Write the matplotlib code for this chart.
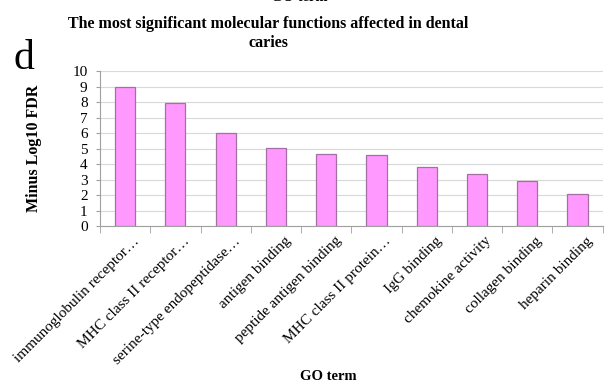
import numpy as np
import matplotlib.pyplot as plt
import matplotlib.transforms as mtransforms

terms = ['immunoglobulin receptor…', 'MHC class II receptor…', 'serine-type endopeptidase…',
         'antigen binding', 'peptide antigen binding', 'MHC class II protein…',
         'IgG binding', 'chemokine activity', 'collagen binding', 'heparin binding']
fdr = [9.0, 7.95, 6.0, 5.05, 4.65, 4.6, 3.8, 3.35, 2.9, 2.05]
yticks = list(range(0, 11))

plt.rcParams['font.family'] = ['Liberation Serif', 'DejaVu Serif']

fig = plt.figure(figsize=(6.1, 3.87), dpi=100)
ax = fig.add_axes([0.164, 0.416, 0.824, 0.4])

x = np.arange(len(terms))
ax.bar(x, fdr, width=0.4, color='#ff99ff', edgecolor='#a46fa4', linewidth=0.9, zorder=3)

ax.set_xlim(-0.5, len(terms) - 0.5)
ax.set_ylim(0, 10)
ax.set_yticks(yticks)
ax.set_yticklabels([str(t) for t in yticks], fontsize=11)
ax.yaxis.grid(True, color='#d9d9d9', linewidth=0.8, zorder=0)
ax.tick_params(axis='y', length=3, color='#a0a0a0', pad=6)

ax.set_xticks(x)
ax.set_xticklabels(terms, rotation=45, ha='right', va='top', rotation_mode='anchor', fontsize=11)
ax.tick_params(axis='x', length=0, pad=6)
shift = mtransforms.ScaledTranslation(8 / 100, 0, fig.dpi_scale_trans)
for lab in ax.get_xticklabels():
    lab.set_transform(lab.get_transform() + shift)
ax.set_xticks(np.arange(-0.5, len(terms)), minor=True)
ax.tick_params(axis='x', which='minor', length=5, color='#a0a0a0')

for s in ['top', 'right']:
    ax.spines[s].set_visible(False)
for s in ['left', 'bottom']:
    ax.spines[s].set_color('#a0a0a0')
    ax.spines[s].set_linewidth(0.8)

ax.set_ylabel('Minus Log10 FDR', fontsize=11.5, fontweight='bold', labelpad=22)
fig.text(0.538, 0.026, 'GO term', ha='center', va='center', fontsize=10.5, fontweight='bold')

fig.text(0.44, 0.914, 'The most significant molecular functions affected in dental\ncaries',
         ha='center', va='center', fontsize=11.5, fontweight='bold', linespacing=1.25)
fig.text(0.022, 0.848, 'd', ha='left', va='center', fontsize=30)
fig.text(0.49, 1.006, 'GO term', ha='center', va='center', fontsize=10.5, fontweight='bold')

fig.savefig('out.png', dpi=100)
